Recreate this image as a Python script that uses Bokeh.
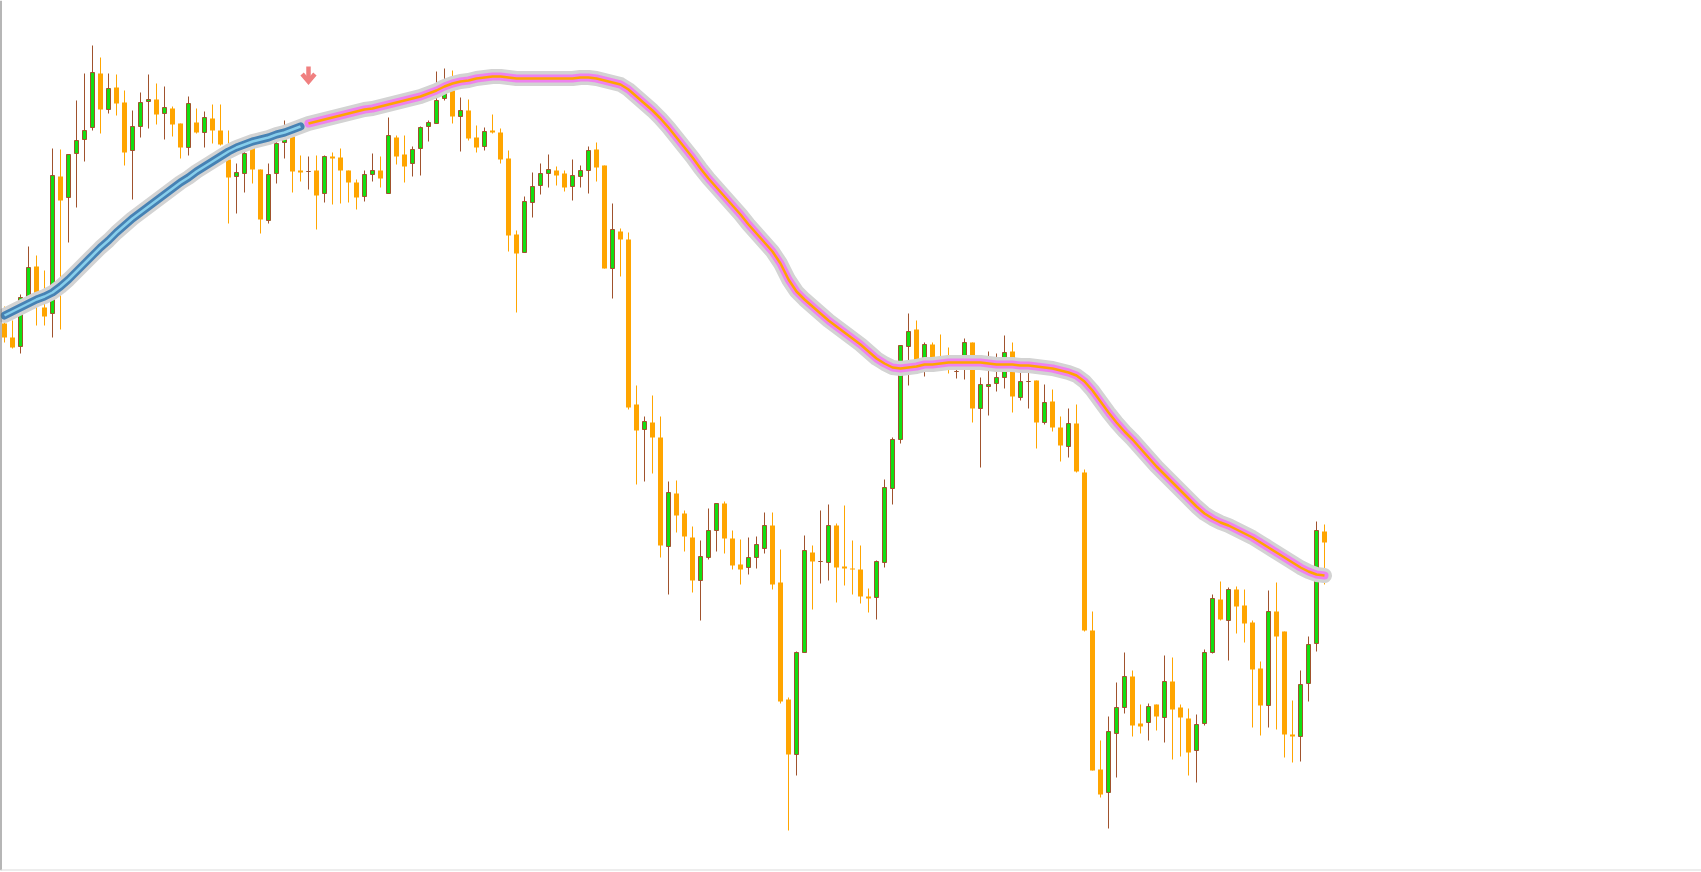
import numpy as np
from bokeh.plotting import figure
from bokeh.models import Range1d, Span
from bokeh.embed import file_html
from bokeh.resources import INLINE

# OHLC bars (price units)
opens = [677, 663, 654, 703, 734, 693, 687, 824, 803, 847,
         861, 873, 927, 891, 913, 898, 850, 874, 899, 901,
         887, 892, 877, 853, 878, 868, 882, 870, 841, 824,
         827, 855, 831, 780, 827, 858, 864, 830, 829, 830,
         807, 844, 843, 830, 818, 804, 826, 830, 807, 863,
         846, 837, 852, 874, 877, 902, 910, 884, 890, 863,
         854, 870, 868, 842, 766, 748, 798, 815, 827, 830,
         827, 814, 824, 830, 851, 835, 732, 769, 761, 596,
         571, 578, 563, 454, 507, 487, 463, 420, 443, 470,
         497, 462, 436, 433, 443, 452, 475, 418, 301, 246,
         348, 448, 439, 438, 475, 434, 432, 431, 404, 403,
         438, 512, 561, 654, 671, 635, 656, 638, 638, 629,
         634, 658, 592, 614, 617, 623, 649, 603, 619, 620,
         578, 599, 573, 554, 577, 528, 370, 231, 208, 267,
         293, 324, 277, 278, 296, 283, 319, 293, 282, 250,
         277, 348, 401, 380, 411, 395, 378, 332, 295, 389,
         369, 266, 264, 317, 357, 469]

highs = [694, 680, 706, 754, 745, 730, 852, 851, 846, 900,
         927, 955, 943, 927, 926, 910, 890, 908, 926, 917,
         914, 894, 877, 904, 892, 889, 896, 896, 870, 837,
         857, 858, 831, 837, 860, 880, 867, 845, 844, 845,
         845, 848, 852, 830, 821, 830, 847, 844, 883, 865,
         865, 854, 874, 880, 929, 932, 930, 903, 901, 875,
         873, 886, 872, 850, 770, 804, 828, 837, 846, 834,
         830, 841, 835, 854, 858, 835, 797, 772, 768, 615,
         584, 605, 584, 519, 520, 490, 474, 460, 492, 497,
         499, 470, 461, 463, 464, 488, 488, 451, 303, 349,
         465, 455, 490, 496, 477, 495, 460, 455, 412, 440,
         521, 563, 655, 687, 680, 658, 658, 666, 653, 640,
         662, 658, 623, 649, 647, 665, 658, 630, 633, 620,
         616, 611, 584, 592, 596, 531, 389, 260, 284, 318,
         348, 330, 296, 297, 296, 345, 343, 296, 292, 286,
         351, 406, 419, 413, 414, 411, 380, 339, 410, 418,
         369, 300, 330, 364, 479, 476]

lows = [658, 652, 647, 700, 675, 675, 663, 671, 758, 793,
        839, 870, 867, 887, 885, 835, 801, 863, 872, 876,
        861, 864, 842, 845, 867, 853, 857, 855, 777, 787,
        808, 817, 767, 777, 817, 842, 808, 819, 811, 771,
        798, 796, 797, 798, 791, 799, 819, 813, 807, 836,
        818, 824, 825, 859, 877, 900, 877, 849, 860, 848,
        850, 867, 837, 749, 688, 748, 783, 806, 813, 815,
        809, 800, 813, 807, 819, 732, 702, 724, 591, 516,
        519, 527, 443, 406, 468, 449, 408, 380, 441, 449,
        447, 431, 416, 426, 432, 447, 411, 297, 170, 225,
        348, 391, 417, 420, 398, 415, 406, 397, 388, 381,
        433, 496, 557, 615, 628, 624, 630, 630, 627, 622,
        621, 578, 533, 585, 609, 612, 588, 600, 592, 552,
        576, 569, 539, 543, 528, 369, 230, 203, 172, 223,
        287, 264, 267, 260, 270, 258, 241, 244, 225, 218,
        275, 347, 380, 340, 367, 358, 273, 265, 273, 271,
        243, 238, 239, 299, 349, 416]

closes = [663, 653, 703, 733, 707, 684, 825, 800, 846, 860,
          870, 928, 891, 912, 897, 848, 874, 898, 901, 886,
          893, 876, 853, 897, 868, 883, 870, 856, 823, 828,
          847, 831, 781, 826, 857, 861, 829, 828, 829, 805,
          844, 842, 830, 818, 803, 826, 830, 822, 865, 844,
          834, 851, 873, 878, 900, 912, 884, 890, 862, 853,
          869, 868, 841, 765, 747, 799, 814, 827, 831, 825,
          813, 825, 830, 850, 833, 732, 771, 761, 593, 570,
          579, 563, 455, 508, 485, 464, 420, 444, 470, 497,
          462, 435, 431, 443, 456, 475, 416, 299, 246, 348,
          450, 439, 439, 475, 433, 432, 431, 404, 402, 439,
          513, 561, 655, 669, 632, 656, 634, 634, 634, 629,
          658, 592, 616, 616, 623, 648, 604, 619, 619, 578,
          598, 573, 555, 577, 529, 370, 230, 206, 269, 293,
          324, 275, 274, 294, 284, 319, 291, 283, 248, 276,
          348, 402, 381, 411, 394, 377, 331, 295, 389, 364,
          266, 264, 316, 356, 470, 458]

# smoothed trend line, one value per bar
trend_ma = [685, 689, 693, 697, 701, 704, 708, 714, 721, 729,
            737, 745, 753, 760, 768, 775, 782, 788, 794, 800,
            806, 812, 818, 823, 829, 834, 839, 844, 849, 853,
            856, 859, 861, 863, 866, 868, 871, 874, 877, 879,
            881, 883, 885, 887, 889, 891, 892, 894, 896, 898,
            900, 902, 904, 907, 910, 914, 917, 919, 920, 922,
            923, 924, 924, 923, 922, 922, 922, 922, 922, 922,
            922, 922, 923, 923, 922, 920, 918, 916, 911, 904,
            897, 890, 882, 873, 863, 853, 843, 832, 822, 813,
            804, 795, 786, 776, 767, 758, 749, 737, 721, 709,
            701, 694, 687, 680, 674, 668, 662, 656, 649, 642,
            637, 633, 632, 633, 634, 636, 636, 637, 638, 638,
            638, 638, 638, 637, 636, 636, 636, 635, 635, 634,
            633, 632, 630, 628, 625, 619, 610, 599, 588, 578,
            569, 561, 552, 543, 534, 526, 518, 510, 502, 494,
            487, 482, 478, 475, 471, 467, 463, 458, 453, 448,
            443, 438, 433, 429, 426, 425]

# first bar of the down-trend and the level of its sell arrow
trend_switch = 38
sell_arrow_level = 918

o = np.array(opens, float)
h = np.array(highs, float)
l = np.array(lows, float)
c = np.array(closes, float)
ma = np.array(trend_ma, float)
idx = np.arange(len(o))
bull = c >= o
bear = ~bull

GREEN = "#12df12"
SIENNA = "#a0522d"
ORANGE = "#ffa500"

x_start = -0.5
x_range = Range1d(x_start, x_start + 1701 / 8)
y_range = Range1d(130, 1000)

p = figure(width=1701, height=872, output_backend="svg", toolbar_location=None,
           x_range=x_range, y_range=y_range,
           x_axis_location=None, y_axis_location=None,
           min_border_left=0, min_border_right=0, min_border_top=0,
           min_border_bottom=2)
p.grid.visible = False
p.outline_line_color = None
p.background_fill_color = "white"
p.border_fill_color = "white"

# wicks
p.segment(x0=idx[bull], y0=l[bull], x1=idx[bull], y1=h[bull],
          line_color=SIENNA, line_width=1)
p.segment(x0=idx[bear], y0=l[bear], x1=idx[bear], y1=h[bear],
          line_color=ORANGE, line_width=1)

# bodies
p.vbar(x=idx[bull], width=0.5, top=c[bull], bottom=o[bull],
       fill_color=GREEN, line_color=SIENNA, line_width=1)
p.vbar(x=idx[bear], width=0.625, top=o[bear], bottom=c[bear],
       fill_color=ORANGE, line_color=None)

# trend line: grey halo, blue while rising, violet once it turns
p.line(idx, ma, line_color="#d3d3d3", line_width=15,
       line_cap="round", line_join="round")
up = idx < trend_switch
dn = idx >= trend_switch
p.line(idx[up], ma[up], line_color="#4682b4", line_width=8,
       line_cap="round", line_join="round")
p.line(idx[up], ma[up], line_color="#87ceeb", line_width=2.5,
       line_join="round")
p.line(idx[dn], ma[dn], line_color="#ee82ee", line_width=8,
       line_cap="round", line_join="round")
p.line(idx[dn], ma[dn], line_color=ORANGE, line_width=2.5,
       line_join="round")

# sell arrow at the turn
ax = trend_switch
p.segment(x0=[ax], y0=[sell_arrow_level + 16], x1=[ax], y1=[sell_arrow_level + 2],
          line_color="#f08080", line_width=4.5)
p.multi_line(xs=[[ax - 0.8, ax, ax + 0.8]],
             ys=[[sell_arrow_level + 8.5, sell_arrow_level + 1, sell_arrow_level + 8.5]],
             line_color="#f08080", line_width=4.5, line_join="miter")

# frame edges
p.add_layout(Span(location=x_range.start, dimension="height",
                  line_color="#6e6e6e", line_width=2))
p.add_layout(Span(location=y_range.start, dimension="width",
                  line_color="#dcdcdc", line_width=2))

open("out.html", "w").write(file_html(p, INLINE))
